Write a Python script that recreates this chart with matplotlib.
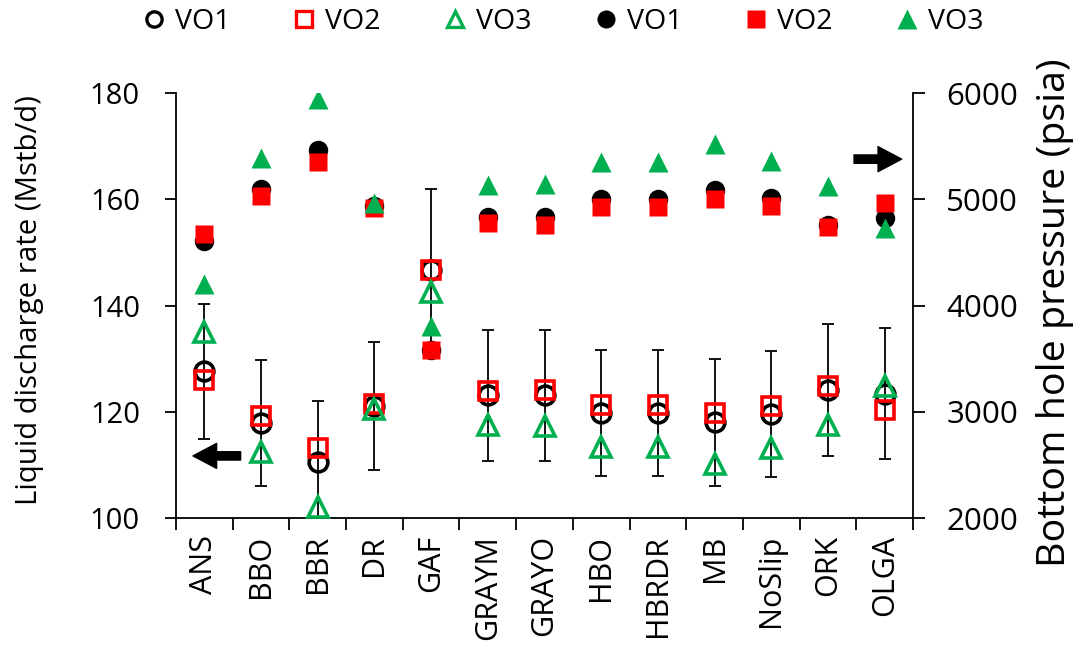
import matplotlib
matplotlib.use("Agg")
import matplotlib.pyplot as plt
from matplotlib.lines import Line2D
from matplotlib.patches import FancyArrowPatch

plt.rcParams['font.family'] = ['Open Sans', 'DejaVu Sans']

categories = ["ANS", "BBO", "BBR", "DR", "GAF", "GRAYM", "GRAYO", "HBO",
              "HBRDR", "MB", "NoSlip", "ORK", "OLGA"]

# Liquid discharge rate (Mstb/d) - left axis, open markers
rate_vo1 = [127.6, 117.9, 110.5, 121.1, 146.8, 123.1, 123.1, 119.8, 119.8, 118.0, 119.6, 124.1, 123.4]
rate_vo2 = [126.0, 119.2, 113.1, 121.4, 146.8, 123.9, 124.1, 121.2, 121.2, 119.8, 121.1, 124.8, 120.4]
rate_vo3 = [135.0, 112.4, 102.0, 120.6, 142.5, 117.5, 117.3, 113.3, 113.3, 110.1, 113.2, 117.5, 124.8]
rate_err = [12.75, 11.8, 11.6, 12.1, 15.1, 12.3, 12.35, 11.9, 11.9, 11.9, 11.95, 12.45, 12.35]

# Bottom hole pressure (psia) - right axis, filled markers
bhp_vo1 = [4605, 5103, 5470, 4940, 3580, 4836, 4836, 5006, 5006, 5093, 5015, 4763, 4822]
bhp_vo2 = [4674, 5035, 5351, 4921, 3579, 4775, 4763, 4928, 4928, 5007, 4935, 4740, 4968]
bhp_vo3 = [4205, 5392, 5948, 4966, 3809, 5133, 5143, 5351, 5351, 5520, 5364, 5123, 4735]

RED = "#FF0000"
GREEN = "#00B050"

fig = plt.figure(figsize=(10.81, 6.51), dpi=100)
ax = fig.add_axes([176/1081, 1 - 518/651, (913 - 176)/1081, (518 - 93.3)/651])
ax2 = ax.twinx()

x = list(range(len(categories)))

ax.errorbar(x, rate_vo1, yerr=rate_err, fmt='none', ecolor='black',
            elinewidth=1.3, capsize=4, capthick=1.3, zorder=2)
ms_open = 13.5
mew_open = 2.6
ax.plot(x, rate_vo1, linestyle='none', marker='o', ms=ms_open, mfc='none',
        mec='black', mew=mew_open, zorder=3, clip_on=False)
ax.plot(x, rate_vo2, linestyle='none', marker='s', ms=ms_open, mfc='none',
        mec=RED, mew=mew_open, zorder=4, clip_on=False)
ax.plot(x, rate_vo3, linestyle='none', marker='^', ms=ms_open + 1, mfc='none',
        mec=GREEN, mew=mew_open, zorder=5, clip_on=False)

ms_fill = 14
ax2.plot(x, bhp_vo1, linestyle='none', marker='o', ms=ms_fill, mfc='black',
         mec='none', zorder=3)
ax2.plot(x, bhp_vo2, linestyle='none', marker='s', ms=ms_fill - 0.5, mfc=RED,
         mec='none', zorder=4)
ax2.plot(x, bhp_vo3, linestyle='none', marker='^', ms=ms_fill + 1, mfc=GREEN,
         mec='none', zorder=5)

ax.set_xlim(-0.5, len(categories) - 0.5)
ax.set_ylim(100, 180)
ax2.set_ylim(2000, 6000)
ax.set_yticks([100, 120, 140, 160, 180])
ax2.set_yticks([2000, 3000, 4000, 5000, 6000])

ax.set_xticks(x)
ax.set_xticklabels(categories, rotation=90, fontsize=22)
ax.set_xticks([i - 0.5 for i in range(len(categories) + 1)], minor=True)
ax.tick_params(axis='x', which='major', length=0, pad=12)
ax.tick_params(axis='x', which='minor', length=8.5, width=1.3, direction='out')
ax.tick_params(axis='y', which='major', length=8, width=1.3, labelsize=21, pad=18)
ax2.tick_params(axis='y', which='major', length=8.5, width=1.3, labelsize=22.5, pad=15.5)

for a in (ax, ax2):
    a.spines['top'].set_visible(False)
    for s in a.spines.values():
        s.set_linewidth(1.3)
ax.spines['right'].set_visible(False)
ax2.spines['left'].set_visible(False)
ax2.spines['bottom'].set_visible(False)

ax.set_ylabel("Liquid discharge rate (Mstb/d)", fontsize=21.2)
ax.yaxis.set_label_coords(-0.179, 0.513)
ax2.set_ylabel("Bottom hole pressure (psia)", fontsize=28.4)
ax2.yaxis.set_label_coords(1.1669, 0.483)

# direction arrows
arr_kw = dict(arrowstyle="simple,head_length=17,head_width=18,tail_width=6",
              mutation_scale=1, color='black', shrinkA=0, shrinkB=0, zorder=6)
ax.add_patch(FancyArrowPatch((0.64, 111.7), (-0.20, 111.7), **arr_kw))
ax.add_patch(FancyArrowPatch((11.46, 167.6), (12.30, 167.6), **arr_kw))

handles = [
    Line2D([], [], linestyle='none', marker='o', ms=11, mfc='none', mec='black', mew=2.4),
    Line2D([], [], linestyle='none', marker='s', ms=11.5, mfc='none', mec=RED, mew=2.4),
    Line2D([], [], linestyle='none', marker='^', ms=12, mfc='none', mec=GREEN, mew=2.4),
    Line2D([], [], linestyle='none', marker='o', ms=13, mfc='black', mec='none'),
    Line2D([], [], linestyle='none', marker='s', ms=13, mfc=RED, mec='none'),
    Line2D([], [], linestyle='none', marker='^', ms=14, mfc=GREEN, mec='none'),
]
labels = ["VO1", "VO2", "VO3", "VO1", "VO2", "VO3"]
fig.legend(handles, labels, loc='center', bbox_to_anchor=(0.522, 1 - 22/651),
           ncol=6, frameon=False, fontsize=20.5, handlelength=0.6,
           handletextpad=0.44, columnspacing=2.3, borderpad=0)

fig.savefig("out.png", dpi=100)
